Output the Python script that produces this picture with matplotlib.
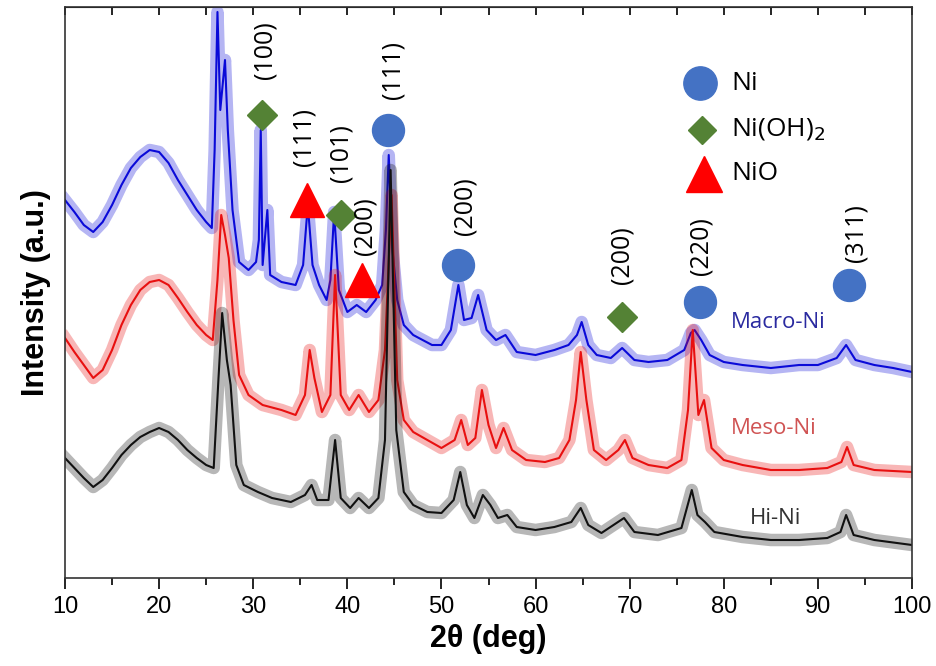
import numpy as np
import matplotlib
matplotlib.use("Agg")
import matplotlib.pyplot as plt

# --- data (2theta in deg, intensity in a.u.) ---
macro_x = [10, 11, 12, 13, 14, 15, 16, 17, 18, 19, 20, 21, 22, 23, 24, 25, 25.6, 25.9, 26.2, 26.5,
           26.8, 27.0, 27.3, 27.8, 28.5, 29.5, 30.3, 30.6, 30.8, 31.0, 31.5, 31.8, 33, 34.5, 35.3,
           35.8, 36.3, 37.0, 37.8, 38.2, 38.6, 39.1, 40, 41, 42, 43, 43.7, 44.1, 44.4, 44.8, 45.3,
           46, 47, 48, 49, 50, 51, 51.8, 52.4, 53.2, 53.9, 54.8, 55.8, 56.8, 58, 60, 62, 63.5, 64.4,
           64.9, 65.6, 66.5, 68, 69.2, 70.5, 72, 74, 75.8, 76.5, 76.9, 77.6, 78.5, 80, 82, 85, 88,
           90, 92, 93.0, 94, 96, 98, 100]
macro_y = [378, 366, 353, 346, 356, 373, 393, 410, 421, 428, 426, 415, 398, 383, 368, 356, 350, 428, 566, 468,
           498, 518, 448, 368, 316, 308, 316, 338, 448, 313, 368, 303, 296, 293, 313,
           373, 313, 293, 278, 298, 366, 288, 266, 273, 266, 278, 293, 348, 423, 328, 278,
           253, 243, 238, 233, 233, 248, 293, 258, 260, 283, 248, 238, 243, 226, 223, 228, 233, 243,
           256, 233, 223, 220, 230, 218, 216, 218, 228, 245, 248, 238, 223, 216, 213, 210, 213,
           213, 220, 233, 218, 213, 210, 206]

meso_x = [10, 11, 12, 13, 14, 15, 16, 17, 18, 19, 20, 21, 22, 23, 24, 25, 25.7, 26.2, 26.6, 27.0,
          27.4, 27.9, 28.5, 29.5, 31, 33, 34.5, 35.5, 36.0, 36.5, 37.3, 38.2, 38.7, 39.3, 40.2,
          41.2, 42.3, 43.3, 44.0, 44.7, 45.3, 46, 47, 48.5, 50, 51.4, 52.1, 52.8, 53.6, 54.3,
          55.0, 55.8, 56.6, 57.5, 59, 61, 62.5, 63.6, 64.3, 64.8, 65.4, 66.2, 67.5, 68.8, 69.5,
          70.3, 72, 74, 75.5, 76.2, 76.7, 77.3, 77.9, 78.7, 80, 82, 85, 88, 91, 92.5, 93.1, 93.8,
          96, 100]
meso_y = [240, 226, 213, 200, 208, 228, 253, 273, 288, 296, 298, 293, 280, 266, 253, 243, 238, 298, 363, 343,
          320, 258, 203, 183, 173, 168, 163, 183, 228, 200, 166, 183, 303, 183, 168,
          183, 166, 178, 228, 383, 198, 158, 146, 138, 130, 138, 158, 133, 140, 188,
          153, 130, 150, 128, 118, 116, 120, 138, 178, 226, 178, 128, 118, 128, 138,
          120, 113, 110, 118, 168, 248, 163, 178, 130, 118, 113, 108, 108, 110, 116, 131, 113,
          108, 106]

hi_x = [10, 11, 12, 13, 14, 15, 16, 17, 18, 19, 20, 21, 22, 23, 24, 25, 25.8, 26.3, 26.7, 27.2,
        27.6, 28.2, 29, 30.5, 32, 34, 35.5, 36.2, 36.8, 38, 38.7, 39.3, 40.3, 41.2, 42.3, 43.3,
        44.0, 44.6, 45.2, 46, 47, 48.5, 50, 51.3, 52.0, 52.7, 53.5, 54.4, 55.2, 56, 57, 58, 60,
        62, 63.8, 64.8, 65.6, 67, 69.4, 70.5, 73, 75.5, 76.6, 77.2, 78, 79, 82, 85, 88, 91,
        92.4, 93.0, 93.8, 96, 100]
hi_y = [120, 110, 100, 91, 98, 110, 123, 133, 141, 146, 150, 146, 138, 128, 120, 113, 110, 198, 265, 218,
        193, 113, 93, 86, 80, 76, 83, 93, 78, 78, 138, 80, 70, 80, 70, 80,
        138, 408, 148, 86, 73, 66, 65, 78, 106, 73, 60, 83, 73, 60, 63, 51, 48,
        51, 56, 70, 53, 45, 60, 46, 43, 50, 88, 63, 56, 46, 41, 38, 38, 40,
        46, 63, 43, 38, 33]

series_names = ["Macro-Ni", "Meso-Ni", "Hi-Ni"]

# peak markers: phase, 2theta, height, hkl label
ni_x = [44.3, 51.8, 77.5, 93.3]
ni_y = [448, 313, 276, 293]
ni_hkl = ["(111)", "(200)", "(220)", "(311)"]
nioh_x = [30.9, 39.3, 69.2]
nioh_y = [463, 363, 261]
nioh_hkl = ["(100)", "(101)", "(200)"]
nio_x = [35.7, 41.6]
nio_y = [378, 298]
nio_hkl = ["(111)", "(200)"]

plt.rcParams["font.family"] = ["Liberation Sans", "DejaVu Sans"]
narrow = ["Liberation Sans Narrow", "Liberation Sans", "DejaVu Sans"]
lab_font = ["Open Sans", "DejaVu Sans"]

fig = plt.figure(figsize=(9.36, 6.66), dpi=100)
ax = fig.add_axes([65 / 936, 88 / 666, 847 / 936, 571 / 666])

for xs, ys, c in [(macro_x, macro_y, "#0a0ad8"), (meso_x, meso_y, "#e81010"), (hi_x, hi_y, "#111111")]:
    ax.plot(xs, ys, color=c, lw=9, alpha=0.3, solid_joinstyle="round")
    ax.plot(xs, ys, color=c, lw=1.5)

ax.plot(ni_x, ni_y, "o", ms=23, color="#4472c4", ls="none")
ax.plot(nioh_x, nioh_y, "D", ms=15, color="#548235", ls="none")
ax.plot(nio_x, nio_y, "^", ms=25, color="#ff0000", ls="none")

# hkl labels above markers
lab_pos = {
    "ni": [(44.9, 508), (52.5, 372), (77.6, 332), (94.0, 345)],
    "nioh": [(31.3, 528), (39.3, 425), (69.2, 323)],
    "nio": [(35.4, 441), (41.9, 352)],
}
for key, hkls in [("ni", ni_hkl), ("nioh", nioh_hkl), ("nio", nio_hkl)]:
    for (px, py), t in zip(lab_pos[key], hkls):
        ax.text(px, py, t, rotation=90, ha="center", va="center", fontsize=18, family=lab_font)

# legend drawn by hand
ax.plot([77.5], [495], "o", ms=24, color="#4472c4")
ax.plot([77.7], [448], "D", ms=14, color="#548235")
ax.plot([77.9], [404], "^", ms=26, color="#ff0000")
ax.text(80.8, 495, "Ni", va="center", fontsize=19, family=lab_font)
ax.text(80.8, 449, "Ni(OH)$_2$", va="center", fontsize=19, family=lab_font)
ax.text(80.8, 404, "NiO", va="center", fontsize=19, family=lab_font)

ax.text(85.8, 256, series_names[0], ha="center", va="center", fontsize=16, color="#2a2aa0", family=lab_font)
ax.text(85.3, 150, series_names[1], ha="center", va="center", fontsize=16, color="#d05454", family=lab_font)
ax.text(85.5, 59, series_names[2], ha="center", va="center", fontsize=16, color="#333333", family=lab_font)

ax.set_xlim(10, 100)
ax.set_ylim(0, 571)
ax.set_yticks([])
ax.set_xticks(np.arange(10, 101, 10))
ax.set_xticks(np.arange(15, 100, 10), minor=True)
ax.tick_params(axis="x", which="major", direction="out", length=8, width=1.2, labelsize=17, pad=5)
ax.tick_params(axis="x", which="minor", direction="out", length=5, width=1.2)
for lbl in ax.get_xticklabels():
    lbl.set_family(narrow)

top = ax.secondary_xaxis("top")
top.set_xticks(np.arange(10, 101, 5))
top.tick_params(direction="in", length=6, width=1.2, labeltop=False)

for s in ax.spines.values():
    s.set_linewidth(1.2)
    s.set_color("#333333")

ax.set_xlabel("2θ (deg)", fontsize=22, fontweight="bold", family=narrow, labelpad=4)
ax.set_ylabel("Intensity (a.u.)", fontsize=22, fontweight="bold", labelpad=10)

fig.savefig("out.png", dpi=100)
